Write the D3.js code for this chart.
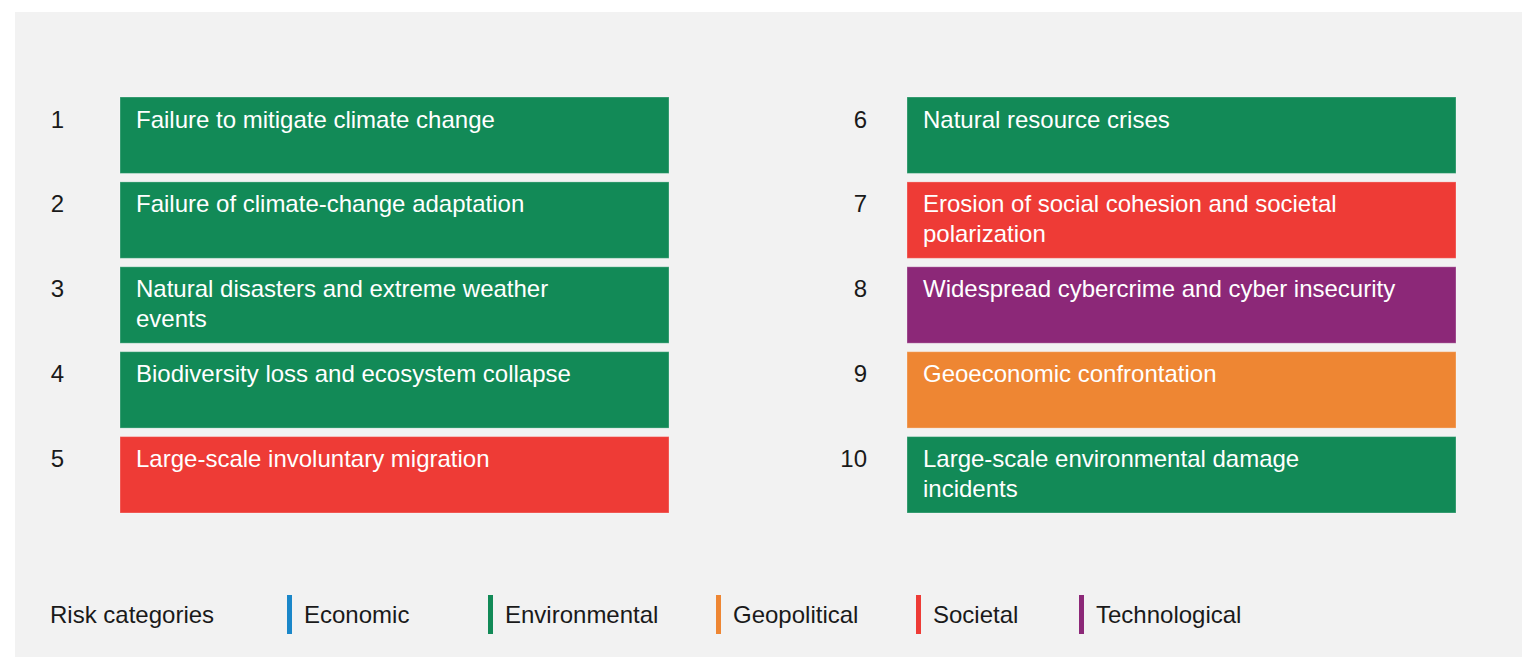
<!DOCTYPE html>
<html>
<head>
<meta charset="utf-8">
<script src="https://cdn.jsdelivr.net/npm/d3@7"></script>
<style>
	html, body { margin: 0; padding: 0; background: #fff; }
	svg { display: block; }
	text { font-family: "Liberation Sans", Arial, Helvetica, sans-serif; }
</style>
</head>
<body>
<svg id="chart" width="1522" height="657"></svg>
<script>
// top 10 risks, ranked; labels keep the line breaks of the original
const ranks = [1, 2, 3, 4, 5, 6, 7, 8, 9, 10];
const risks = [
	['Failure to mitigate climate change'],
	['Failure of climate-change adaptation'],
	['Natural disasters and extreme weather', 'events'],
	['Biodiversity loss and ecosystem collapse'],
	['Large-scale involuntary migration'],
	['Natural resource crises'],
	['Erosion of social cohesion and societal', 'polarization'],
	['Widespread cybercrime and cyber insecurity'],
	['Geoeconomic confrontation'],
	['Large-scale environmental damage', 'incidents'],
];
const riskCategory = [
	'Environmental', 'Environmental', 'Environmental', 'Environmental', 'Societal',
	'Environmental', 'Societal', 'Technological', 'Geopolitical', 'Environmental',
];

const categories = ['Economic', 'Environmental', 'Geopolitical', 'Societal', 'Technological'];
const categoryColors = ['#1b87c9', '#128a57', '#ee8633', '#ee3b36', '#8c2878'];

const svg = d3.select('#chart');
const width = +svg.attr('width');
const height = +svg.attr('height');

const color = d3.scaleOrdinal().domain(categories).range(categoryColors);

// 2 columns of 5 rows
const perCol = 5;
const colScale = d3.scaleBand().domain([0, 1]).range([120, 1456]).paddingInner(0.3024);
const rowScale = d3.scaleBand().domain(d3.range(perCol)).range([97, 513]).paddingInner(0.1);
const numRight = [64, 867];

svg.append('rect')
	.attr('x', 15).attr('y', 12)
	.attr('width', width - 15).attr('height', height - 12)
	.attr('fill', '#f2f2f2');

const nodes = ranks.map((rank, i) => ({
	rank,
	lines: risks[i],
	category: riskCategory[i],
	col: Math.floor(i / perCol),
	row: i % perCol,
}));

const item = svg.append('g').classed('risks', true)
	.selectAll('g')
	.data(nodes)
	.join('g')
	.attr('transform', d => `translate(0,${rowScale(d.row)})`);

item.append('rect')
	.attr('x', d => colScale(d.col))
	.attr('width', colScale.bandwidth())
	.attr('height', rowScale.bandwidth())
	.attr('fill', d => color(d.category))
	.attr('stroke', 'rgba(255,255,255,0.3)')
	.attr('stroke-width', 1);

item.append('text')
	.attr('x', d => numRight[d.col])
	.attr('y', 30.5)
	.attr('text-anchor', 'end')
	.attr('font-size', 24)
	.attr('fill', '#1a1a1a')
	.text(d => d.rank);

item.append('text')
	.attr('x', d => colScale(d.col) + 16)
	.attr('y', 30.5)
	.attr('font-size', 24)
	.attr('fill', '#fff')
	.selectAll('tspan')
	.data(d => d.lines)
	.join('tspan')
	.attr('x', function () { return this.parentNode.getAttribute('x'); })
	.attr('dy', (d, i) => i === 0 ? 0 : 29.5)
	.text(d => d);

// legend
const legend = svg.append('g').classed('legend', true);
legend.append('text')
	.attr('x', 50).attr('y', 623)
	.attr('font-size', 24)
	.attr('fill', '#1a1a1a')
	.text('Risk categories');

const legendX = [287, 488, 716, 916, 1079];
const legendItem = legend.selectAll('g.item')
	.data(categories)
	.join('g')
	.classed('item', true)
	.attr('transform', (d, i) => `translate(${legendX[i]},0)`);

legendItem.append('rect')
	.attr('x', 0).attr('y', 595)
	.attr('width', 5).attr('height', 39)
	.attr('fill', d => color(d));

legendItem.append('text')
	.attr('x', 17).attr('y', 623)
	.attr('font-size', 24)
	.attr('fill', '#1a1a1a')
	.text(d => d);
</script>
</body>
</html>
